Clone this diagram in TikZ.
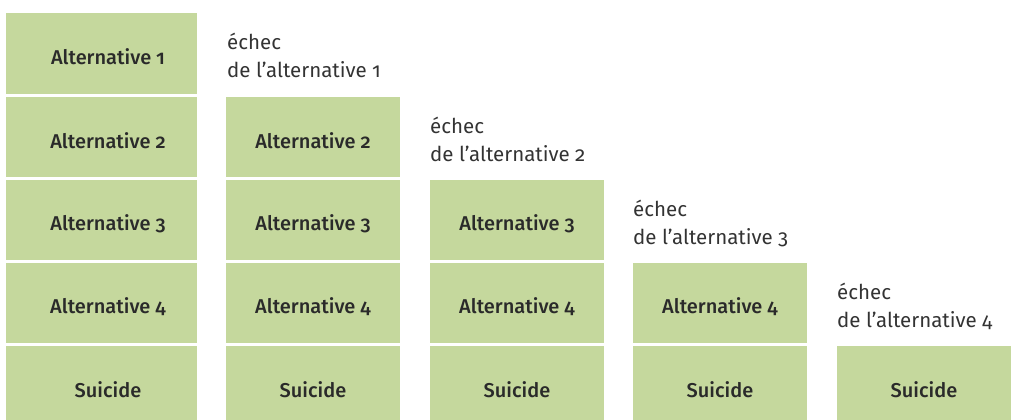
\documentclass[tikz,border=0pt]{standalone}
\usepackage{fontspec}
\setmainfont{Fira Sans}[Numbers=OldStyle, BoldFont={Fira Sans Medium}]
\definecolor{boxgreen}{HTML}{C5D89D}
\definecolor{txt}{HTML}{2A2A2A}
\definecolor{lbl}{HTML}{333333}
\begin{document}
\begin{tikzpicture}[x=1pt,y=-1pt,
  boxtxt/.style={text=txt, font=\fontsize{20}{24}\selectfont\bfseries, inner sep=0pt},
  lbltxt/.style={text=lbl, font=\fontsize{20.5}{28}\selectfont, align=left, anchor=north west, inner sep=0pt}]
\useasboundingbox (0,0) rectangle (1012,420);
\foreach \r/\t/\b in {1/13/94,2/97/177,3/180/260,4/263/343,5/346/420}{
  \fill[boxgreen] (6,\t) rectangle (197,\b);
}
\foreach \c/\l in {2/226,3/430,4/633,5/837}{
  \foreach \r/\t/\b in {1/13/94,2/97/177,3/180/260,4/263/343,5/346/420}{
    \ifnum\r<\c\else
      \fill[boxgreen] (\l,\t) rectangle ({\l+174},\b);
    \fi
  }
}
% column 1 texts
\node[boxtxt] (a11) at (108,57) {Alternative 1};
\node[boxtxt] (a12) at (108,141) {Alternative 2};
\node[boxtxt] (a13) at (108,224) {Alternative 3};
\node[boxtxt] (a14) at (108,307) {Alternative 4};
\node[boxtxt] (s1) at (108,390) {Suicide};
% column 2
\node[boxtxt] (a22) at (313,141) {Alternative 2};
\node[boxtxt] (a23) at (313,224) {Alternative 3};
\node[boxtxt] (a24) at (313,307) {Alternative 4};
\node[boxtxt] (s2) at (313,390) {Suicide};
% column 3
\node[boxtxt] (a33) at (517,224) {Alternative 3};
\node[boxtxt] (a34) at (517,307) {Alternative 4};
\node[boxtxt] (s3) at (517,390) {Suicide};
% column 4
\node[boxtxt] (a44) at (720,307) {Alternative 4};
\node[boxtxt] (s4) at (720,390) {Suicide};
% column 5
\node[boxtxt] (s5) at (924,390) {Suicide};
% labels
\node[lbltxt] (e1) at (227,33) {échec\\de l’alternative 1};
\node[lbltxt] (e2) at (430,117) {échec\\de l’alternative 2};
\node[lbltxt] (e3) at (633,200) {échec\\de l’alternative 3};
\node[lbltxt] (e4) at (837,283) {échec\\de l’alternative 4};
\end{tikzpicture}
\end{document}
